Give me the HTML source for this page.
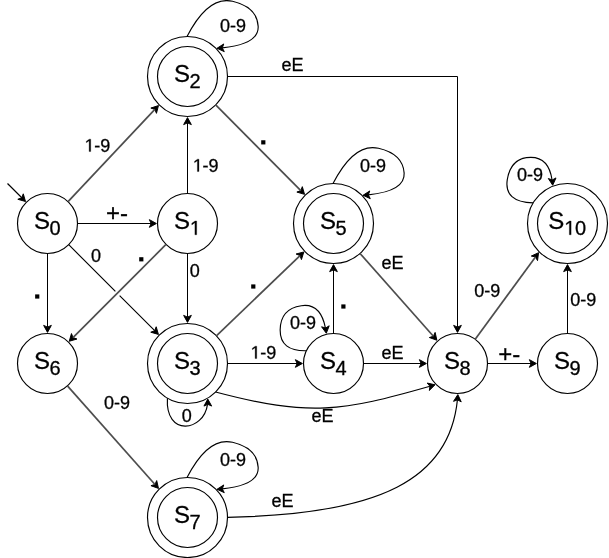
<!DOCTYPE html>
<html><head><meta charset="utf-8"><style>
html,body{margin:0;padding:0;background:#fff;width:609px;height:558px;overflow:hidden}
svg{display:block}
.g path,.g circle{fill:none;stroke:#000;stroke-width:1}
.g path.ar{fill:#000;stroke:#000;stroke-width:1}
.g circle.c{stroke-width:1.15}
.g path.d{stroke-width:1.15}
.g path.gr{stroke:#4d4d4d;stroke-width:1.7}
text{font-family:"Liberation Sans",sans-serif;fill:#000;stroke:#000;stroke-width:0.3px}
.st{font-size:24px}
.sub{font-size:20px}
.lb{font-size:18px}
.pm{font-size:24px}
.dot{fill:#000}
.one{fill:#000;stroke:#000;stroke-width:0.3px;vector-effect:non-scaling-stroke}
</style></head><body>
<div style="will-change:transform"><svg width="609" height="558" viewBox="0 0 609 558">
<g class="g">
<circle cx="47.5" cy="223.5" r="30" class="c"/>
<circle cx="187.5" cy="223.5" r="30" class="c"/>
<circle cx="187.5" cy="76.5" r="30" class="c"/>
<circle cx="187.5" cy="76.5" r="40" class="c"/>
<circle cx="333.5" cy="223.5" r="30" class="c"/>
<circle cx="333.5" cy="223.5" r="40" class="c"/>
<circle cx="567.5" cy="223.5" r="30" class="c"/>
<circle cx="567.5" cy="223.5" r="40" class="c"/>
<circle cx="47.5" cy="363.5" r="30" class="c"/>
<circle cx="187.5" cy="363.5" r="30" class="c"/>
<circle cx="187.5" cy="363.5" r="40" class="c"/>
<circle cx="333.5" cy="363.5" r="30" class="c"/>
<circle cx="457.5" cy="363.5" r="30" class="c"/>
<circle cx="567.5" cy="363.5" r="30" class="c"/>
<circle cx="187.5" cy="517.5" r="30" class="c"/>
<circle cx="187.5" cy="517.5" r="40" class="c"/>
<path d="M25.5 201.5L17.82 199.27L21.78 197.78L23.27 193.82Z" class="ar"/>
<path class="d" d="M7.5 183.5L21.78 197.78"/>
<path d="M156.38 223.5L149.38 227.35L151.13 223.5L149.38 219.65Z" class="ar"/>
<path d="M77.5 223.5L151.13 223.5"/>
<path d="M47.5 332.38L43.65 325.38L47.5 327.13L51.35 325.38Z" class="ar"/>
<path d="M47.5 253.5L47.5 327.13"/>
<path d="M187.5 117.62L191.35 124.62L187.5 122.87L183.65 124.62Z" class="ar"/>
<path d="M187.5 193.5L187.5 122.87"/>
<path d="M187.5 322.38L183.65 315.38L187.5 317.13L191.35 315.38Z" class="ar"/>
<path d="M187.5 253.5L187.5 317.13"/>
<path d="M302.38 363.5L295.38 367.35L297.13 363.5L295.38 359.65Z" class="ar"/>
<path d="M227.5 363.5L297.13 363.5"/>
<path d="M333.5 264.62L337.35 271.62L333.5 269.87L329.65 271.62Z" class="ar"/>
<path d="M333.5 333.5L333.5 269.87"/>
<path d="M426.38 363.5L419.38 367.35L421.13 363.5L419.38 359.65Z" class="ar"/>
<path d="M363.5 363.5L421.13 363.5"/>
<path d="M536.38 363.5L529.38 367.35L531.13 363.5L529.38 359.65Z" class="ar"/>
<path d="M487.5 363.5L531.13 363.5"/>
<path d="M567.5 264.62L571.35 271.62L567.5 269.87L563.65 271.62Z" class="ar"/>
<path d="M567.5 333.5L567.5 269.87"/>
<path d="M304.52 194.33L296.86 192.07L300.82 190.6L302.32 186.65Z" class="ar"/>
<path class="gr" d="M215.69 104.88L300.82 190.6"/>
<path d="M436.87 340.21L429.34 337.52L433.39 336.28L435.11 332.41Z" class="ar"/>
<path class="gr" d="M360.02 253.44L433.39 336.28"/>
<path d="M303.82 251.96L301.43 259.58L300.03 255.59L296.1 254.02Z" class="ar"/>
<path class="gr" d="M216.37 335.82L300.03 255.59"/>
<path d="M158.45 105.6L156.46 113.33L154.85 109.42L150.85 108.06Z" class="ar"/>
<path class="gr" d="M68.06 201.65L154.85 109.42"/>
<path d="M538.56 252.69L537.53 260.61L535.46 256.92L531.32 256.06Z" class="ar"/>
<path class="gr" d="M475.21 339.29L535.46 256.92"/>
<path d="M158.47 488.38L150.95 485.7L154.99 484.46L156.7 480.59Z" class="ar"/>
<path class="gr" d="M67.43 385.93L154.99 484.46"/>
<path d="M69.25 341.25L71.48 333.57L72.97 337.53L76.93 339.02Z" class="ar"/>
<path class="gr" d="M166.04 244.46L72.97 337.53"/>
<path d="M158.43 334.43L150.75 332.2L154.71 330.71L156.2 326.75Z" class="ar"/>
<path class="d" d="M68.71 244.71L115.38 291.38M119.62 295.62L154.71 330.71"/>
<path d="M457.5 332.38L453.65 325.38L457.5 327.13L461.35 325.38Z" class="ar"/>
<path d="M227.5 76.5L457.5 76.5L457.5 327.13"/>
<path d="M217.04 48.28L223.75 43.95L222.27 47.91L224.29 51.63Z" class="ar"/>
<path class="d" d="M187.03 36.5Q208.07 -4.43 232.5 1.26Q256.94 6.96 258.15 26.14Q259.28 44.09 222.27 47.83"/>
<path d="M363.04 195.28L369.75 190.95L368.27 194.91L370.29 198.63Z" class="ar"/>
<path class="d" d="M333.03 183.5Q354.07 142.57 378.5 148.26Q402.94 153.96 404.15 173.14Q405.28 191.09 368.27 194.83"/>
<path d="M217.04 489.28L223.75 484.95L222.27 488.91L224.29 492.63Z" class="ar"/>
<path class="d" d="M187.03 477.5Q208.07 436.57 232.5 442.26Q256.94 447.96 258.15 467.14Q259.28 485.09 222.27 488.83"/>
<path d="M326.3 333.23L321.58 326.79L325.62 328.03L329.21 325.79Z" class="ar"/>
<path class="d" d="M306.34 350.76Q279.99 351.28 280.15 330.05Q280.32 308.81 301.31 305.72Q320.44 302.9 325.46 328.05"/>
<path d="M552.69 185.19L548.32 178.51L552.29 179.96L556 177.92Z" class="ar"/>
<path class="d" d="M533.2 202.92Q503.73 201.85 507.29 179.7Q510.85 157.55 530.71 157.39Q548.62 157.24 552.1 179.98"/>
<path d="M207.8 399.08L211.65 406.08L207.8 404.33L203.95 406.08Z" class="ar"/>
<path class="d" d="M167.42 398.1C164.99 436.86 203.68 431.93 207.51 404.32"/>
<path d="M435.01 384.81L429.34 390.45L429.96 386.26L427.21 383.05Z" class="ar"/>
<path class="d" d="M215.57 392C309.91 417 342.29 411.35 429.96 386.26"/>
<path d="M457.84 394.61L461.23 401.85L457.5 399.85L453.54 401.35Z" class="ar"/>
<path class="d" d="M227.5 517.33C380.75 514.39 449.48 479.07 457.41 399.85"/>
</g>
<text x="33.88" y="228.65" class="st">S</text>
<text x="49.39" y="234.75" class="sub">0</text>
<text x="173.88" y="228.65" class="st">S</text>
<path class="one" transform="translate(189.39 234.75) scale(0.009766 -0.009766)" d="M565 0L565 1237L247 1010L247 1180L580 1409L746 1409L746 0Z"/>
<text x="173.88" y="81.65" class="st">S</text>
<text x="189.39" y="87.75" class="sub">2</text>
<text x="319.88" y="228.65" class="st">S</text>
<text x="335.39" y="234.75" class="sub">5</text>
<text x="548.32" y="228.65" class="st">S</text>
<path class="one" transform="translate(563.83 234.75) scale(0.009766 -0.009766)" d="M565 0L565 1237L247 1010L247 1180L580 1409L746 1409L746 0Z"/><text x="574.95" y="234.75" class="sub">0</text>
<text x="33.88" y="368.65" class="st">S</text>
<text x="49.39" y="374.75" class="sub">6</text>
<text x="173.88" y="368.65" class="st">S</text>
<text x="189.39" y="374.75" class="sub">3</text>
<text x="319.88" y="368.65" class="st">S</text>
<text x="335.39" y="374.75" class="sub">4</text>
<text x="443.88" y="368.65" class="st">S</text>
<text x="459.39" y="374.75" class="sub">8</text>
<text x="553.88" y="368.65" class="st">S</text>
<text x="569.39" y="374.75" class="sub">9</text>
<text x="173.88" y="522.65" class="st">S</text>
<text x="189.39" y="528.75" class="sub">7</text>
<text x="220.04" y="31.7" class="lb">0-9</text>
<text x="359.97" y="171.57" class="lb">0-9</text>
<text x="219.97" y="465.57" class="lb">0-9</text>
<text x="516.97" y="180.57" class="lb">0-9</text>
<text x="289.97" y="328.57" class="lb">0-9</text>
<path class="one" transform="translate(84.17 151.57) scale(0.008789 -0.008789)" d="M565 0L565 1237L247 1010L247 1180L580 1409L746 1409L746 0Z"/><text x="94.18" y="151.57" class="lb">-9</text>
<path class="one" transform="translate(192.41 171.55) scale(0.008789 -0.008789)" d="M565 0L565 1237L247 1010L247 1180L580 1409L746 1409L746 0Z"/><text x="202.42" y="171.55" class="lb">-9</text>
<text x="90.88" y="261.5" class="lb">0</text>
<text x="189.87" y="276.5" class="lb">0</text>
<text x="181.74" y="421.5" class="lb">0</text>
<text x="281.54" y="70.55" class="lb">eE</text>
<text x="381.54" y="268.55" class="lb">eE</text>
<text x="381.54" y="358.55" class="lb">eE</text>
<text x="311.54" y="421.55" class="lb">eE</text>
<text x="271.54" y="507.4" class="lb">eE</text>
<path class="one" transform="translate(250.17 358.57) scale(0.008789 -0.008789)" d="M565 0L565 1237L247 1010L247 1180L580 1409L746 1409L746 0Z"/><text x="260.18" y="358.57" class="lb">-9</text>
<text x="104.12" y="408.57" class="lb">0-9</text>
<text x="474.17" y="296.57" class="lb">0-9</text>
<text x="570.17" y="305.57" class="lb">0-9</text>
<text x="106.08" y="220.88" class="pm">+-</text>
<text x="498.23" y="361.91" class="pm">+-</text>
<rect x="139.2" y="257.2" width="4.2" height="4.2" class="dot"/>
<rect x="261.2" y="140.25" width="4.2" height="4.2" class="dot"/>
<rect x="251.2" y="284.4" width="4.2" height="4.2" class="dot"/>
<rect x="341.3" y="304.4" width="4.2" height="4.2" class="dot"/>
<rect x="35.14" y="294.4" width="4.2" height="4.2" class="dot"/>
</svg></div>
</body></html>
